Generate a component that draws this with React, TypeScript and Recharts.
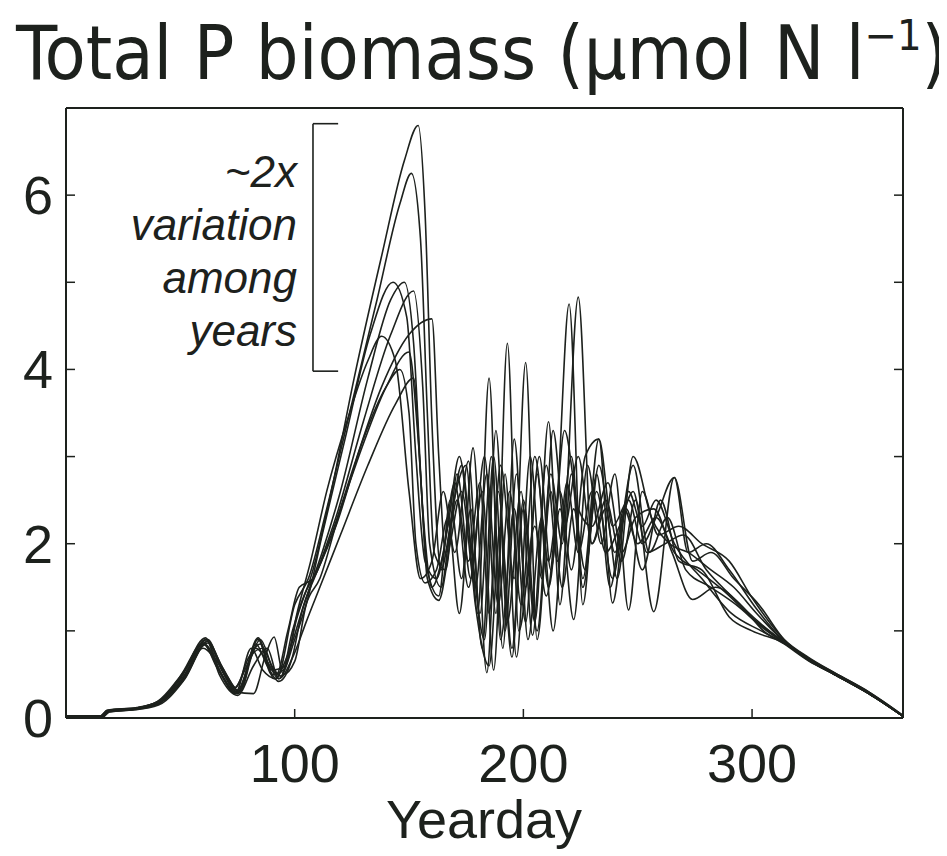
import { Line, LineChart, ReferenceLine, XAxis, YAxis } from "recharts";

const FONT = '"Liberation Sans", Arial, sans-serif';
const TITLE_FONT = '"DejaVu Sans Condensed", "Liberation Sans", sans-serif';
const INK = "#1d211d";

// one series per model year: [yearday, total P biomass]
const year1: [number, number][] = [
  [0, 0.02], [16, 0.02], [19, 0.09], [32, 0.12], [42, 0.22], [52, 0.55], [62, 0.9], [68, 0.55], [75, 0.3],
  [84, 0.9], [90, 0.5], [95, 0.55], [101, 1.15], [108, 1.7], [116, 2.6], [126, 3.9], [138, 5.3], [148, 6.4],
  [154, 6.8], [157, 5.8], [160, 3.4], [164, 1.7], [168, 2.2], [173, 2.9], [179, 1.3], [185, 0.6], [190, 2.2],
  [195, 0.8], [200, 2.5], [206, 1.0], [212, 2.8], [217, 2.0], [224, 4.83], [230, 2.0], [236, 2.4], [241, 1.6],
  [248, 3.0], [256, 2.3], [264, 2.0], [272, 1.9], [282, 1.7], [292, 1.5], [302, 1.2], [314, 0.88], [325, 0.68],
  [336, 0.5], [351, 0.28], [366, 0.02],
];
const year2: [number, number][] = [
  [0, 0.02], [15, 0.02], [18, 0.08], [30, 0.1], [40, 0.18], [50, 0.45], [60, 0.85], [66, 0.6], [74, 0.28],
  [81, 0.8], [86, 0.55], [92, 0.45], [100, 1.3], [106, 1.6], [114, 2.4], [124, 3.5], [136, 4.8], [146, 5.9],
  [151, 6.25], [155, 5.5], [158, 3.5], [161, 1.9], [166, 1.7], [171, 2.8], [177, 1.6], [183, 3.0], [188, 1.2],
  [193, 4.3], [198, 1.0], [205, 2.2], [210, 1.4], [215, 2.6], [220, 4.75], [226, 1.3], [232, 2.8], [238, 1.5],
  [244, 2.4], [250, 2.0], [258, 2.3], [266, 1.9], [276, 1.7], [288, 1.45], [300, 1.15], [314, 0.87],
  [325, 0.66], [336, 0.5], [351, 0.28], [366, 0.02],
];
const year3: [number, number][] = [
  [0, 0.01], [16, 0.01], [19, 0.08], [32, 0.11], [42, 0.2], [51, 0.5], [61, 0.92], [67, 0.5], [75, 0.26],
  [82, 0.6], [88, 0.8], [93, 0.45], [100, 0.9], [106, 1.4], [112, 2.1], [122, 3.2], [133, 4.4], [143, 5.0],
  [149, 4.6], [153, 3.0], [157, 1.8], [162, 1.6], [167, 2.2], [172, 3.0], [177, 2.0], [183, 0.9], [188, 3.3],
  [193, 1.1], [199, 2.6], [204, 0.95], [210, 2.9], [215, 1.8], [221, 3.0], [226, 1.6], [233, 3.2], [239, 1.32],
  [246, 2.6], [252, 2.2], [258, 2.5], [266, 2.0], [278, 1.6], [291, 1.2], [304, 1.0], [314, 0.86], [325, 0.67],
  [336, 0.51], [351, 0.29], [366, 0.02],
];
const year4: [number, number][] = [
  [0, 0.02], [15, 0.02], [18, 0.09], [31, 0.12], [41, 0.2], [50, 0.4], [60, 0.8], [66, 0.65], [74, 0.35],
  [80, 0.7], [85, 0.85], [91, 0.45], [98, 0.8], [104, 1.3], [112, 1.9], [120, 2.6], [132, 3.9], [142, 4.8],
  [148, 5.0], [152, 4.3], [156, 2.4], [160, 1.5], [165, 1.9], [170, 2.7], [176, 1.5], [182, 2.6], [187, 0.55],
  [192, 2.8], [197, 0.7], [203, 3.0], [208, 1.6], [213, 3.3], [218, 2.2], [224, 3.0], [230, 2.0], [236, 2.5],
  [243, 1.8], [249, 2.5], [257, 1.22], [266, 2.76], [274, 1.8], [282, 1.9], [292, 1.6], [303, 1.3], [314, 0.9],
  [325, 0.68], [336, 0.52], [351, 0.3], [366, 0.03],
];
const year5: [number, number][] = [
  [0, 0.02], [16, 0.02], [19, 0.08], [31, 0.1], [41, 0.17], [51, 0.42], [62, 0.86], [69, 0.55], [76, 0.3],
  [83, 0.85], [88, 0.6], [93, 0.42], [99, 0.7], [103, 1.2], [110, 1.7], [118, 2.3], [130, 3.4], [142, 4.4],
  [152, 4.9], [156, 3.8], [159, 2.0], [164, 1.5], [169, 2.4], [175, 2.9], [180, 1.2], [185, 3.9], [190, 0.9],
  [196, 2.4], [201, 1.1], [206, 2.8], [211, 1.5], [216, 2.4], [222, 1.13], [228, 2.9], [234, 2.0], [240, 2.8],
  [246, 1.24], [252, 2.6], [259, 2.1], [268, 2.2], [278, 2.0], [290, 1.8], [300, 1.38], [314, 0.9], [325, 0.69],
  [336, 0.52], [351, 0.3], [366, 0.03],
];
const year6: [number, number][] = [
  [0, 0.02], [15, 0.02], [18, 0.07], [30, 0.1], [40, 0.17], [51, 0.45], [62, 0.88], [67, 0.62], [75, 0.32],
  [82, 0.75], [86, 0.8], [92, 0.5], [97, 1.0], [102, 1.5], [108, 1.6], [116, 2.1], [126, 2.9], [138, 3.8],
  [150, 4.4], [160, 4.58], [163, 3.0], [166, 1.9], [171, 2.5], [176, 1.8], [181, 2.7], [185, 1.2], [190, 2.9],
  [196, 1.6], [201, 4.08], [206, 0.9], [212, 2.6], [217, 1.5], [222, 2.4], [227, 1.7], [233, 2.9], [240, 1.9],
  [248, 2.9], [255, 1.9], [263, 2.3], [271, 1.7], [282, 1.5], [293, 1.3], [304, 1.05], [314, 0.86], [325, 0.66],
  [336, 0.5], [351, 0.28], [366, 0.02],
];
const year7: [number, number][] = [
  [0, 0.02], [16, 0.02], [19, 0.09], [31, 0.11], [42, 0.2], [52, 0.5], [61, 0.9], [68, 0.5], [75, 0.28],
  [84, 0.92], [90, 0.55], [96, 0.6], [101, 1.2], [107, 1.8], [114, 2.6], [124, 3.5], [132, 4.1], [138, 4.38],
  [144, 4.1], [150, 2.6], [155, 1.6], [160, 1.8], [165, 2.6], [170, 1.9], [176, 2.95], [181, 1.2], [186, 3.0],
  [191, 0.8], [196, 3.2], [201, 1.5], [207, 3.0], [212, 1.7], [218, 3.3], [224, 2.4], [230, 2.2], [237, 2.7],
  [243, 1.9], [249, 2.3], [257, 2.4], [265, 1.9], [274, 1.36], [284, 1.5], [295, 1.3], [305, 1.0], [314, 0.85],
  [325, 0.65], [336, 0.5], [351, 0.28], [366, 0.02],
];
const year8: [number, number][] = [
  [0, 0.02], [15, 0.02], [18, 0.08], [31, 0.11], [41, 0.19], [50, 0.42], [61, 0.84], [67, 0.55], [74, 0.3],
  [82, 0.28], [87, 0.7], [91, 0.93], [95, 0.5], [100, 0.65], [105, 1.3], [111, 1.6], [119, 2.3], [128, 3.0],
  [140, 3.8], [150, 4.2], [154, 3.2], [158, 1.7], [163, 1.4], [168, 2.5], [173, 1.6], [178, 3.1], [184, 0.52],
  [189, 2.6], [195, 0.7], [200, 2.4], [205, 1.1], [211, 3.4], [216, 1.3], [221, 2.8], [226, 1.5], [232, 2.6],
  [239, 1.6], [245, 2.4], [252, 1.7], [260, 2.5], [268, 1.8], [278, 1.7], [290, 1.16], [300, 1.0], [314, 0.86],
  [325, 0.66], [336, 0.5], [351, 0.28], [366, 0.02],
];
const year9: [number, number][] = [
  [0, 0.01], [16, 0.01], [19, 0.07], [32, 0.1], [42, 0.17], [52, 0.45], [62, 0.88], [68, 0.6], [76, 0.3],
  [83, 0.8], [88, 0.65], [93, 0.45], [100, 0.75], [105, 1.1], [111, 1.5], [120, 2.1], [132, 2.9], [144, 3.6],
  [152, 3.9], [155, 2.8], [158, 1.6], [163, 1.35], [168, 2.0], [173, 2.6], [179, 1.5], [184, 2.8], [189, 1.3],
  [194, 2.6], [199, 1.3], [205, 3.0], [211, 1.8], [216, 2.6], [221, 1.7], [227, 3.0], [233, 3.2], [239, 2.2],
  [246, 2.5], [252, 2.0], [258, 2.3], [266, 2.76], [272, 1.9], [280, 2.0], [290, 1.7], [302, 1.25], [314, 0.88],
  [325, 0.67], [336, 0.51], [351, 0.29], [366, 0.02],
];
const year10: [number, number][] = [
  [0, 0.02], [15, 0.02], [18, 0.08], [30, 0.11], [40, 0.19], [50, 0.48], [60, 0.86], [66, 0.58], [73, 0.33],
  [80, 0.65], [85, 0.9], [90, 0.6], [94, 0.48], [99, 1.0], [104, 1.4], [110, 1.7], [118, 2.2], [130, 3.2],
  [140, 3.8], [146, 4.0], [150, 3.5], [153, 2.0], [157, 1.55], [162, 1.7], [167, 2.3], [172, 1.2], [177, 2.4],
  [182, 0.8], [187, 3.0], [192, 1.0], [197, 2.8], [202, 0.9], [208, 2.3], [213, 1.0], [219, 2.7], [224, 1.9],
  [230, 2.6], [236, 1.9], [242, 2.2], [248, 2.6], [254, 1.9], [262, 2.0], [270, 2.1], [280, 1.7], [291, 1.4],
  [303, 1.1], [314, 0.87], [325, 0.67], [336, 0.51], [351, 0.29], [366, 0.02],
];

const years = [year1, year2, year3, year4, year5, year6, year7, year8, year9, year10];

const xTicks = [100, 200, 300];
const yTicks = [0, 1, 2, 3, 4, 5, 6, 7];
const yLabelled = [0, 2, 4, 6];

const noteLines = ["~2x", "variation", "among", "years"];
// bracket spanning the spring peaks: yearday from/to, biomass low/high
const bracketDays = [108, 119];
const bracketRange = [3.98, 6.82];

const TICK = 9;

function BottomTick({ x, y, payload }: any) {
  return (
    <g>
      <line x1={x} y1={y} x2={x} y2={y - TICK} stroke={INK} strokeWidth={1.5} />
      <text x={x} y={y + 64} textAnchor="middle" fontSize={54} fontFamily={FONT} fill={INK}>
        {payload.value}
      </text>
    </g>
  );
}

function TopTick({ x, y }: any) {
  return <line x1={x} y1={y} x2={x} y2={y + TICK} stroke={INK} strokeWidth={1.5} />;
}

function LeftTick({ x, y, payload }: any) {
  return (
    <g>
      <line x1={x} y1={y} x2={x + TICK} y2={y} stroke={INK} strokeWidth={1.5} />
      {yLabelled.includes(payload.value) && (
        <text x={x - 13} y={y + 19} textAnchor="end" fontSize={54} fontFamily={FONT} fill={INK}>
          {payload.value}
        </text>
      )}
    </g>
  );
}

function RightTick({ x, y }: any) {
  return <line x1={x} y1={y} x2={x - TICK} y2={y} stroke={INK} strokeWidth={1.5} />;
}

export default function App() {
  const W = 939;
  const H = 848;
  return (
    <div style={{ position: "relative", width: W, height: H, background: "#fff" }}>
      <LineChart width={W} height={H} margin={{ top: 90, right: 34, bottom: 98, left: 18 }}>
        <XAxis
          type="number"
          dataKey="d"
          domain={[0, 366]}
          ticks={xTicks}
          allowDataOverflow
          height={40}
          tickSize={0}
          tickMargin={0}
          tickLine={false}
          tick={<BottomTick />}
          axisLine={{ stroke: INK, strokeWidth: 2 }}
        />
        <XAxis
          xAxisId="t"
          orientation="top"
          type="number"
          domain={[0, 366]}
          ticks={xTicks}
          allowDataOverflow
          height={10}
          tickSize={0}
          tickMargin={0}
          tickLine={false}
          tick={<TopTick />}
          axisLine={{ stroke: INK, strokeWidth: 2 }}
        />
        <YAxis
          type="number"
          domain={[0, 7]}
          ticks={yTicks}
          allowDataOverflow
          width={40}
          tickSize={0}
          tickMargin={0}
          tickLine={false}
          tick={<LeftTick />}
          axisLine={{ stroke: INK, strokeWidth: 2 }}
        />
        <YAxis
          yAxisId="r"
          orientation="right"
          type="number"
          domain={[0, 7]}
          ticks={yTicks}
          allowDataOverflow
          width={10}
          tickSize={0}
          tickMargin={0}
          tickLine={false}
          tick={<RightTick />}
          axisLine={{ stroke: INK, strokeWidth: 2 }}
        />
        {years.map((yr, i) => (
          <Line
            key={i}
            data={yr.map(([d, v]) => ({ d, v }))}
            dataKey="v"
            type="monotone"
            stroke={INK}
            strokeWidth={1.6}
            dot={false}
            isAnimationActive={false}
          />
        ))}
        <ReferenceLine
          segment={[{ x: bracketDays[0], y: bracketRange[0] }, { x: bracketDays[0], y: bracketRange[1] }]}
          stroke={INK}
          strokeWidth={1.6}
        />
        <ReferenceLine
          segment={[{ x: bracketDays[0], y: bracketRange[1] }, { x: bracketDays[1], y: bracketRange[1] }]}
          stroke={INK}
          strokeWidth={1.6}
        />
        <ReferenceLine
          segment={[{ x: bracketDays[0], y: bracketRange[0] }, { x: bracketDays[1], y: bracketRange[0] }]}
          stroke={INK}
          strokeWidth={1.6}
        />
      </LineChart>
      <svg
        width={W}
        height={H}
        style={{ position: "absolute", left: 0, top: 0, pointerEvents: "none" }}
        fontFamily={FONT}
        fill={INK}
      >
        <text x={8} y={71} fontSize={75} fontFamily={TITLE_FONT}>
          Total P biomass (μmol N l
          <tspan dy={-29} fontSize={43}>−1</tspan>
          <tspan dy={29}>)</tspan>
        </text>
        {noteLines.map((t, i) => (
          <text key={t} x={289} y={179 + i * 53} textAnchor="end" fontSize={44} fontStyle="italic">
            {t}
          </text>
        ))}
        <text x={476} y={830} textAnchor="middle" fontSize={54}>
          Yearday
        </text>
      </svg>
    </div>
  );
}
